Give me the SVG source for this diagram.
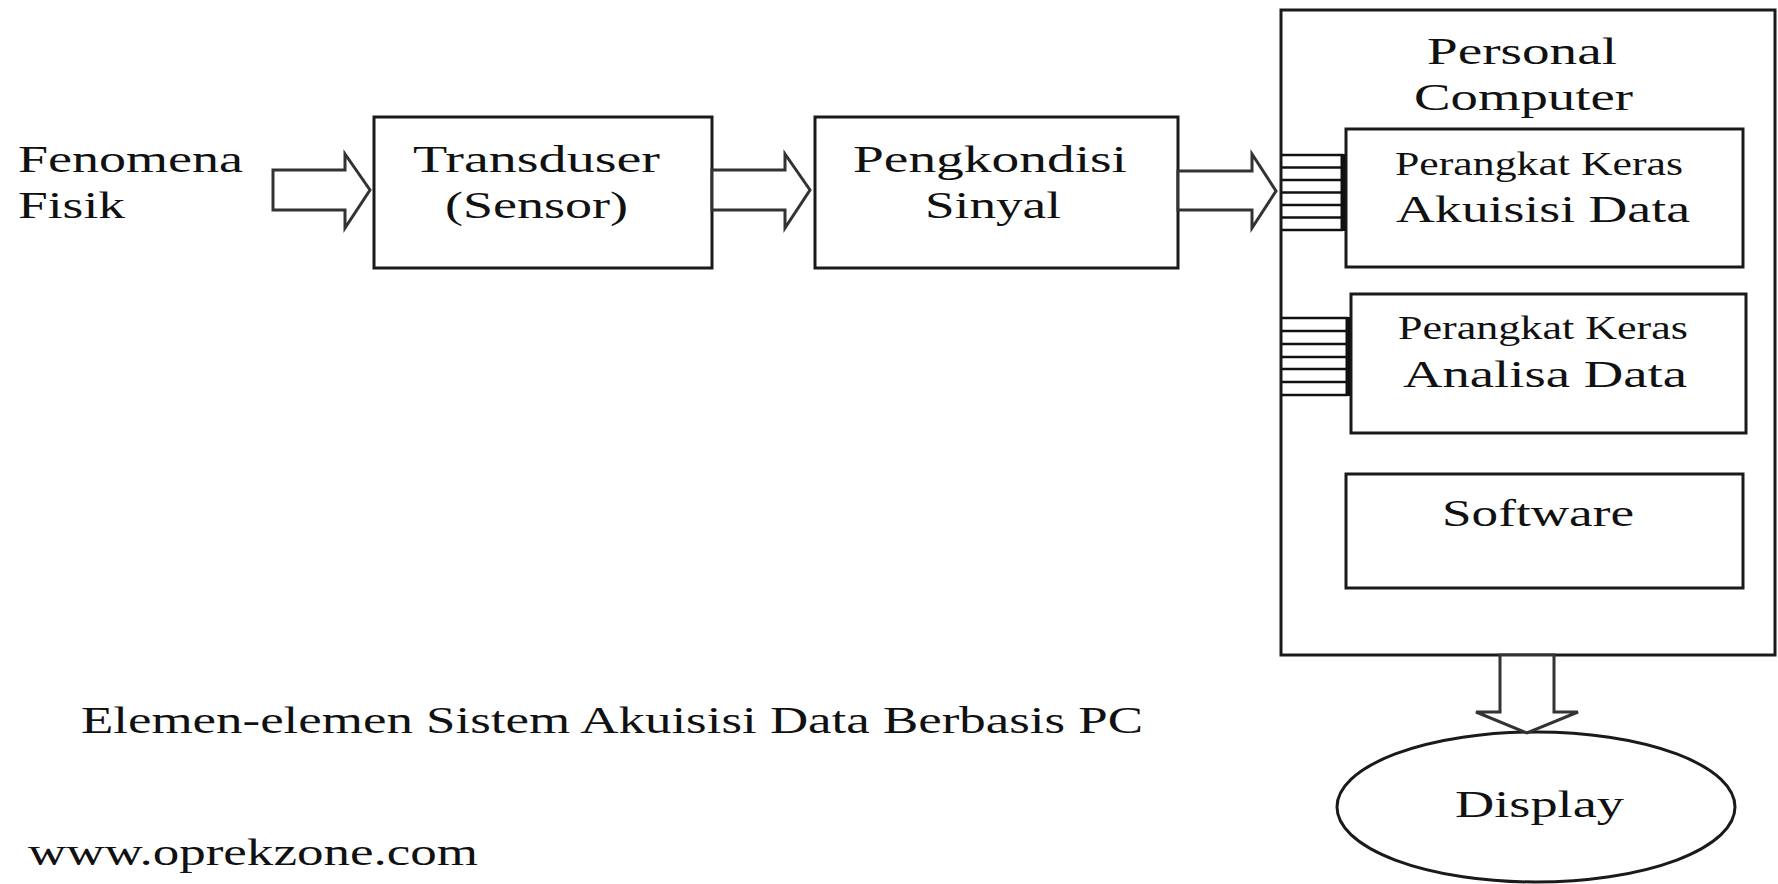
<svg xmlns="http://www.w3.org/2000/svg" width="1778" height="884" viewBox="0 0 1778 884">
<style>
.box{fill:#fff;stroke:#1a1a1a;stroke-width:3}
.arr{fill:#fff;stroke:#333;stroke-width:3;stroke-linejoin:miter}
.bus{stroke:#111;stroke-width:2.5}
.bar{stroke:#111;stroke-width:5}
.t{font-family:"Liberation Serif","DejaVu Serif",serif;font-size:37px;fill:#111}
.s{font-family:"Liberation Serif","DejaVu Serif",serif;font-size:33px;fill:#111}
</style>
<rect width="1778" height="884" fill="#fff"/>
<g id="fenomena">
<text class="t" x="18" y="172" textLength="225" lengthAdjust="spacingAndGlyphs">Fenomena</text>
<text class="t" x="18" y="218" textLength="107" lengthAdjust="spacingAndGlyphs">Fisik</text>
</g>
<g id="transduser">
<rect class="box" x="374" y="117" width="338" height="151"/>
<text class="t" x="413" y="172" textLength="247" lengthAdjust="spacingAndGlyphs">Transduser</text>
<text class="t" x="445" y="218" textLength="183" lengthAdjust="spacingAndGlyphs">(Sensor)</text>
</g>
<g id="pengkondisi">
<rect class="box" x="815" y="117" width="363" height="151"/>
<text class="t" x="853" y="172" textLength="274" lengthAdjust="spacingAndGlyphs">Pengkondisi</text>
<text class="t" x="925" y="218" textLength="136" lengthAdjust="spacingAndGlyphs">Sinyal</text>
</g>
<g id="pc">
<rect class="box" x="1281" y="10" width="494" height="645"/>
<text class="t" x="1427" y="64" textLength="190" lengthAdjust="spacingAndGlyphs">Personal</text>
<text class="t" x="1414" y="110" textLength="219" lengthAdjust="spacingAndGlyphs">Computer</text>
</g>
<g id="akuisisi">
<rect class="box" x="1346" y="129" width="397" height="138"/>
<text class="s" x="1395" y="175" textLength="288" lengthAdjust="spacingAndGlyphs">Perangkat Keras</text>
<text class="t" x="1396" y="222" textLength="294" lengthAdjust="spacingAndGlyphs">Akuisisi Data</text>
</g>
<g id="analisa">
<rect class="box" x="1351" y="294" width="395" height="139"/>
<text class="s" x="1398" y="339" textLength="290" lengthAdjust="spacingAndGlyphs">Perangkat Keras</text>
<text class="t" x="1403" y="387" textLength="284" lengthAdjust="spacingAndGlyphs">Analisa Data</text>
</g>
<g id="software">
<rect class="box" x="1346" y="474" width="397" height="114"/>
<text class="t" x="1442" y="526" textLength="192" lengthAdjust="spacingAndGlyphs">Software</text>
</g>
<g id="display">
<ellipse class="box" cx="1536" cy="807" rx="199" ry="75"/>
<text class="t" x="1455" y="817" textLength="169" lengthAdjust="spacingAndGlyphs">Display</text>
</g>
<g id="connectors">
<polygon class="arr" points="273,170 345,170 345,154 370,190 345,228 345,210 273,210"/>
<polygon class="arr" points="712,170 785,170 785,154 810,190 785,228 785,210 712,210"/>
<polygon class="arr" points="1178,171 1252,171 1252,154 1276,191 1252,228 1252,210 1178,210"/>
<polygon class="arr" points="1500,655 1554,655 1554,712 1578,712 1527,733 1476,712 1500,712"/>
<g id="bus1">
<line class="bus" x1="1282" y1="155" x2="1343" y2="155"/>
<line class="bus" x1="1282" y1="167.5" x2="1343" y2="167.5"/>
<line class="bus" x1="1282" y1="180" x2="1343" y2="180"/>
<line class="bus" x1="1282" y1="192.5" x2="1343" y2="192.5"/>
<line class="bus" x1="1282" y1="205" x2="1343" y2="205"/>
<line class="bus" x1="1282" y1="217.5" x2="1343" y2="217.5"/>
<line class="bus" x1="1282" y1="230" x2="1343" y2="230"/>
<line class="bar" x1="1343" y1="154" x2="1343" y2="231"/>
</g>
<g id="bus2">
<line class="bus" x1="1282" y1="318" x2="1348" y2="318"/>
<line class="bus" x1="1282" y1="331" x2="1348" y2="331"/>
<line class="bus" x1="1282" y1="344" x2="1348" y2="344"/>
<line class="bus" x1="1282" y1="357" x2="1348" y2="357"/>
<line class="bus" x1="1282" y1="369" x2="1348" y2="369"/>
<line class="bus" x1="1282" y1="382" x2="1348" y2="382"/>
<line class="bus" x1="1282" y1="395" x2="1348" y2="395"/>
<line class="bar" x1="1348" y1="317" x2="1348" y2="396"/>
</g>
</g>
<g id="caption">
<text class="t" x="81" y="733" font-size="39" textLength="1062" lengthAdjust="spacingAndGlyphs">Elemen-elemen Sistem Akuisisi Data Berbasis PC</text>
</g>
<g id="watermark">
<text class="t" x="28" y="865" textLength="450" lengthAdjust="spacingAndGlyphs">www.oprekzone.com</text>
</g>
</svg>
